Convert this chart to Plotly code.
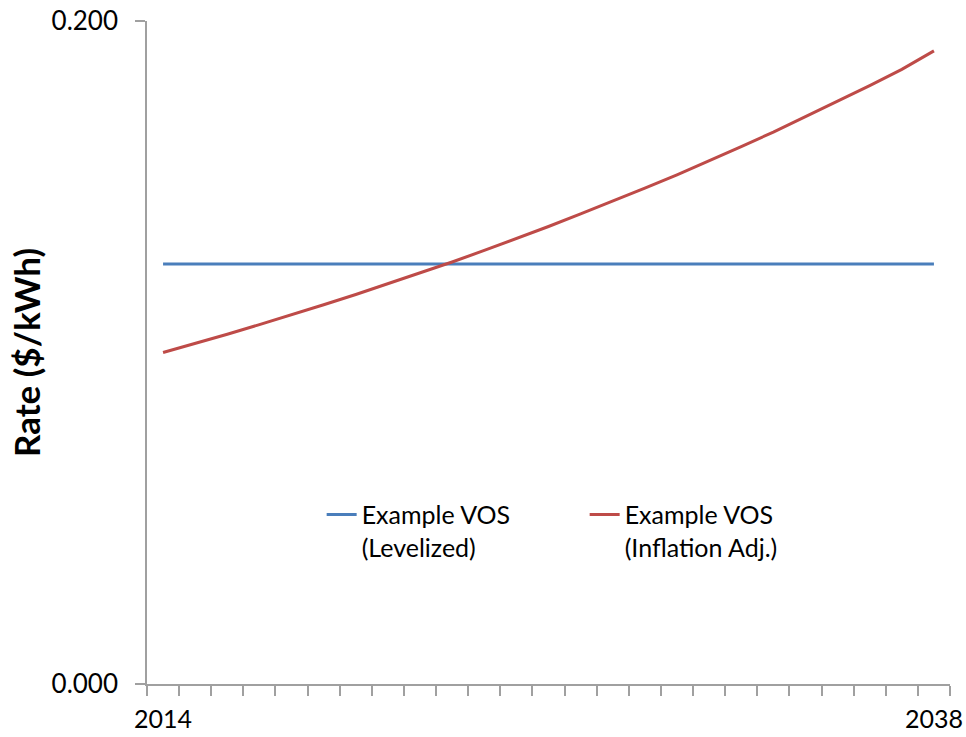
import plotly.graph_objects as go

years = list(range(2014, 2039))
levelized = [0.1267] * 25
inflation_adj = [0.1000, 0.1027, 0.1055, 0.1084, 0.1113, 0.1144, 0.1175, 0.1207,
                 0.1240, 0.1273, 0.1308, 0.1343, 0.1380, 0.1418, 0.1456, 0.1496,
                 0.1536, 0.1578, 0.1621, 0.1665, 0.1711, 0.1757, 0.1805, 0.1854, 0.1910]
series_names = ["Example VOS<br>(Levelized)", "Example VOS<br>(Inflation Adj.)"]
x_tick_vals = [2014, 2038]
x_tick_text = ["2014", "2038"]
y_tick_vals = [0.0, 0.2]
y_tick_text = ["0.000", "0.200"]

FONT = "Lato"
fig = go.Figure()
fig.add_trace(go.Scatter(x=years, y=levelized, mode="lines", name=series_names[0],
                         line=dict(color="#4A7EBB", width=3)))
fig.add_trace(go.Scatter(x=years, y=inflation_adj, mode="lines", name=series_names[1],
                         line=dict(color="#BE4B48", width=3)))

fig.update_layout(
    width=966, height=737,
    margin=dict(l=147, r=16, t=21, b=53, autoexpand=False),
    paper_bgcolor="white", plot_bgcolor="white",
    font=dict(family=FONT, size=25, color="black"),
    showlegend=True,
    legend=dict(orientation="h", x=0.2175, y=0.29, xanchor="left", yanchor="top",
                valign="top", font=dict(size=25, family=FONT, color="black"),
                entrywidth=218, entrywidthmode="pixels", bgcolor="rgba(0,0,0,0)"),
)
fig.update_xaxes(
    range=[2013.5, 2038.5], tickmode="array", tickvals=x_tick_vals, ticktext=x_tick_text,
    ticks="", showgrid=False, zeroline=False, automargin=False,
    ticklabeloverflow="allow",
    showline=True, linecolor="#A0A0A0", linewidth=1.5,
    tickfont=dict(size=25, family=FONT), ticklabelstandoff=12,
    minor=dict(tick0=2013.5, dtick=1, ticks="outside", ticklen=10, tickcolor="#A0A0A0",
               tickwidth=1.5, showgrid=False),
)
fig.update_yaxes(
    range=[0, 0.2], tickmode="array", tickvals=y_tick_vals, ticktext=y_tick_text,
    ticks="outside", ticklen=10, tickcolor="#A0A0A0", tickwidth=1.5,
    showgrid=True, gridcolor="#A0A0A0", gridwidth=1.5, zeroline=False, automargin=False,
    ticklabeloverflow="allow",
    showline=True, linecolor="#A0A0A0", linewidth=1.5,
    tickfont=dict(size=26, family=FONT), ticklabelstandoff=12,
    title=dict(text="<b>Rate ($/kWh)</b>", font=dict(size=35, family=FONT), standoff=0),
)
fig.write_html("out.html", config={"displayModeBar": False},
               post_script="document.body.style.margin='0';document.body.style.overflow='hidden';")
